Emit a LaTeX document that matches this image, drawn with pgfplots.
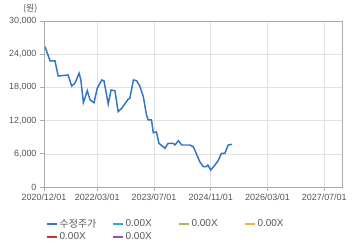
\documentclass[border=0pt]{standalone}
\usepackage{pgfplots}
\pgfplotsset{compat=1.18}
\usepackage{fontspec}
\setmainfont{Liberation Sans}
\newfontfamily\kr{Noto Sans CJK KR}
\definecolor{mainblue}{RGB}{52,117,200}
\definecolor{ccyan}{RGB}{38,178,196}
\definecolor{cgreen}{RGB}{155,190,90}
\definecolor{corange}{RGB}{245,175,70}
\definecolor{cred}{RGB}{195,50,45}
\definecolor{cpurple}{RGB}{140,90,165}
\definecolor{txt}{RGB}{85,85,85}
\definecolor{gridc}{RGB}{225,225,225}
\definecolor{axc}{RGB}{170,170,170}
\begin{document}
\begin{tikzpicture}
\path[use as bounding box] (-44bp,-61bp) rectangle (316bp,187bp);
\begin{axis}[
  name=ax,
  at={(0,0)}, anchor=south west,
  scale only axis, width=298bp, height=166bp,
  xmin=0, xmax=84, ymin=0, ymax=30000,
  scaled y ticks=false,
  xtick={0,15,31,47,63,79},
  xticklabels={2020/12/01,2022/03/01,2023/07/01,2024/11/01,2026/03/01,2027/07/01},
  ytick={0,6000,12000,18000,24000,30000},
  yticklabels={0,{6,000},{12,000},{18,000},{24,000},{30,000}},
  grid=major, major grid style={gridc, line width=0.6pt},
  axis line style={axc, line width=0.8pt},
  tick style={axc, line width=0.8pt},
  tick align=outside, major tick length=4bp,
  xtick pos=bottom, ytick pos=left,
  ticklabel style={font=\fontsize{9}{10}\selectfont, text=txt},
  /pgf/number format/assume math mode=true,
  xticklabel style={yshift=1bp},
  legend style={at={(axis description cs:0.005,-0.18)}, anchor=north west,
    draw=none, fill=none, font=\fontsize{10}{11}\selectfont, text=txt,
    legend columns=4, row sep=-0.5bp, inner sep=0pt,
    /tikz/every even column/.append style={column sep=0pt}},
  legend cell align=left,
  legend image code/.code={\draw[#1, line width=2pt] (0,0) -- (10bp,0);},
]
\addplot[mainblue, line width=1.5pt] coordinates {
(0.3,25350)(1.7,22800)(3.1,22780)(4.0,20060)(6.8,20240)(7.8,18250)(8.7,18740)
(9.9,20550)(10.4,19340)(11.1,15240)(12.2,17400)(13.0,15720)(14.1,15240)(15.0,17840)
(16.3,19340)(16.9,19210)(18.1,15000)(18.9,17530)(20.0,17400)(20.9,13610)(21.9,14220)
(23.7,15850)(24.2,16030)(25.2,19340)(26.1,19210)(27.0,18250)(28.0,16320)(28.9,13010)
(29.4,12110)(30.3,12110)(30.8,9810)(31.7,9940)(32.4,7900)(34.1,6990)(35.0,7900)
(36.4,7900)(36.9,7590)(37.9,8370)(38.8,7590)(41.1,7590)(42.1,7280)(43.1,5780)
(43.9,4570)(44.9,3670)(45.8,3670)(46.2,3980)(47.0,3070)(48.2,3980)(49.1,4760)
(50.0,6090)(51.0,6090)(51.9,7590)(53.0,7710)
};
\addlegendentry{\makebox[50bp][l]{\kr 수정주가}}
\addlegendimage{ccyan}\addlegendentry{\makebox[50bp][l]{0.00X}}
\addlegendimage{cgreen}\addlegendentry{\makebox[50bp][l]{0.00X}}
\addlegendimage{corange}\addlegendentry{\makebox[50bp][l]{0.00X}}
\addlegendimage{cred}\addlegendentry{\makebox[50bp][l]{0.00X}}
\addlegendimage{cpurple}\addlegendentry{\makebox[50bp][l]{0.00X}}
\end{axis}
\node[anchor=south east, font=\fontsize{9}{10}\selectfont\kr, text=txt] at ([xshift=-3bp,yshift=4bp]ax.north west) {(원)};
\end{tikzpicture}
\end{document}
